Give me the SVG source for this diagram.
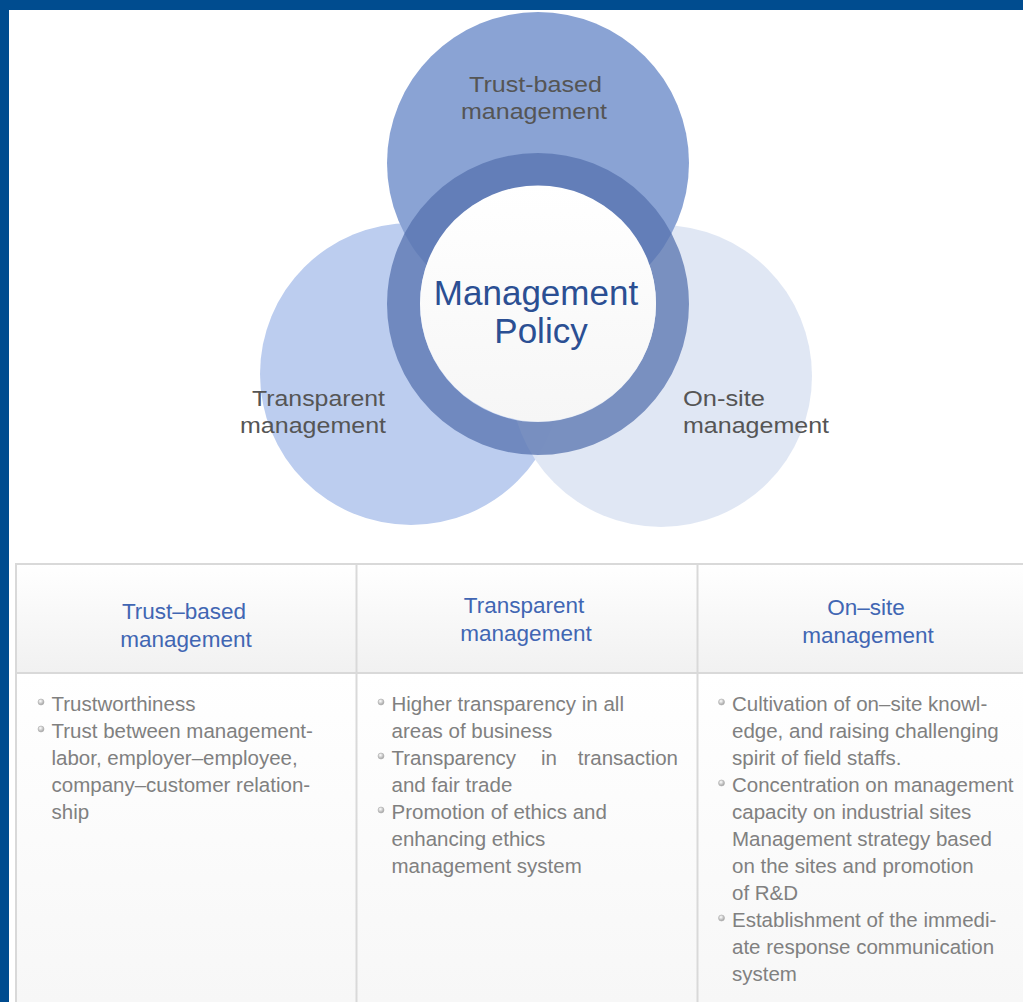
<svg xmlns="http://www.w3.org/2000/svg" width="1023" height="1002" viewBox="0 0 1023 1002">
<defs>
<linearGradient id="hdr" x1="0" y1="0" x2="0" y2="1">
<stop offset="0" stop-color="#ffffff"/>
<stop offset="1" stop-color="#f1f1f1"/>
</linearGradient>
<linearGradient id="body" x1="0" y1="0" x2="0" y2="1">
<stop offset="0" stop-color="#ffffff"/>
<stop offset="1" stop-color="#f7f7f7"/>
</linearGradient>
<linearGradient id="inner" x1="0" y1="0" x2="0" y2="1">
<stop offset="0" stop-color="#ffffff"/>
<stop offset="1" stop-color="#f6f6f6"/>
</linearGradient>
<radialGradient id="bul" cx="0.4" cy="0.35" r="0.7">
<stop offset="0" stop-color="#ffffff"/>
<stop offset="1" stop-color="#9a9a9a"/>
</radialGradient>
</defs>
<style>
.lbl{font-family:"Liberation Sans",Arial,sans-serif;font-size:22px;fill:#555555}
.mp{font-family:"Liberation Sans",Arial,sans-serif;font-size:35px;fill:#2b4f93;text-anchor:middle}
.hd{font-family:"Liberation Sans",Arial,sans-serif;font-size:22.5px;fill:#4166b3;text-anchor:middle}
.tx{font-family:"Liberation Sans",Arial,sans-serif;font-size:20.5px;fill:#808080}
.ln{stroke:#d9d9d9;stroke-width:2;fill:none}
.b{fill:url(#bul);stroke:#b0b0b0;stroke-width:0.6}
</style>
<rect x="0" y="0" width="1023" height="1002" fill="#ffffff"/>
<rect x="0" y="0" width="1023" height="10" fill="#004c8f"/>
<rect x="0" y="0" width="9" height="1002" fill="#004c8f"/>

<g id="circles">
<g id="node-transparent">
<circle cx="411" cy="374" r="151" fill="#bccdef"/>
</g>
<g id="node-onsite">
<circle cx="661" cy="376" r="151" fill="#dee6f3" fill-opacity="0.95"/>
</g>
<g id="node-trust">
<circle cx="538" cy="163" r="151" fill="#8aa3d4"/>
</g>
<g id="node-policy">
<circle cx="538" cy="304" r="134.5" fill="none" stroke="#5572ae" stroke-opacity="0.74" stroke-width="33"/>
<circle cx="538" cy="303.5" r="118" fill="url(#inner)"/>
<text class="mp" x="536" y="305">Management</text>
<text class="mp" x="541" y="343">Policy</text>
</g>
</g>
<g id="circle-labels">
<text class="lbl" x="469" y="92" textLength="133" lengthAdjust="spacingAndGlyphs">Trust-based</text>
<text class="lbl" x="461" y="119" textLength="146" lengthAdjust="spacingAndGlyphs">management</text>
<text class="lbl" x="252" y="406" textLength="133" lengthAdjust="spacingAndGlyphs">Transparent</text>
<text class="lbl" x="240" y="433" textLength="146" lengthAdjust="spacingAndGlyphs">management</text>
<text class="lbl" x="683" y="406" textLength="82" lengthAdjust="spacingAndGlyphs">On-site</text>
<text class="lbl" x="683" y="433" textLength="146" lengthAdjust="spacingAndGlyphs">management</text>
</g>

<g id="table">
<rect x="15" y="563" width="1008" height="110" fill="url(#hdr)"/>
<rect x="15" y="673" width="1008" height="329" fill="url(#body)"/>
<g id="connectors">
<line class="ln" x1="15" y1="564" x2="1023" y2="564"/>
<line class="ln" x1="15" y1="673" x2="1023" y2="673"/>
<line class="ln" x1="16" y1="563" x2="16" y2="1002"/>
<line class="ln" x1="356.5" y1="563" x2="356.5" y2="1002"/>
<line class="ln" x1="697.5" y1="563" x2="697.5" y2="1002"/>
</g>
<g id="header-trust">
<text class="hd" x="184" y="619">Trust–based</text>
<text class="hd" x="186" y="647">management</text>
</g>
<g id="header-transparent">
<text class="hd" x="524" y="613">Transparent</text>
<text class="hd" x="526" y="641">management</text>
</g>
<g id="header-onsite">
<text class="hd" x="866" y="615">On–site</text>
<text class="hd" x="868" y="643">management</text>
</g>

<g id="body-trust">
<circle class="b" cx="41" cy="702" r="3"/>
<circle class="b" cx="41" cy="729" r="3"/>
<text class="tx" x="51.5" y="711">Trustworthiness</text>
<text class="tx" x="51.5" y="738">Trust between management-</text>
<text class="tx" x="51.5" y="765">labor, employer–employee,</text>
<text class="tx" x="51.5" y="792">company–customer relation-</text>
<text class="tx" x="51.5" y="819">ship</text>
</g>
<g id="body-transparent">
<circle class="b" cx="381" cy="702" r="3"/>
<circle class="b" cx="381" cy="756" r="3"/>
<circle class="b" cx="381" cy="810" r="3"/>
<text class="tx" x="391.5" y="711">Higher transparency in all</text>
<text class="tx" x="391.5" y="738">areas of business</text>
<text class="tx" y="765"><tspan x="391.5">Transparency</tspan><tspan x="541">in</tspan><tspan x="678" text-anchor="end">transaction</tspan></text>
<text class="tx" x="391.5" y="792">and fair trade</text>
<text class="tx" x="391.5" y="819">Promotion of ethics and</text>
<text class="tx" x="391.5" y="846">enhancing ethics</text>
<text class="tx" x="391.5" y="873">management system</text>
</g>
<g id="body-onsite">
<circle class="b" cx="721.5" cy="702" r="3"/>
<circle class="b" cx="721.5" cy="783" r="3"/>
<circle class="b" cx="721.5" cy="918" r="3"/>
<text class="tx" x="732" y="711">Cultivation of on–site knowl-</text>
<text class="tx" x="732" y="738">edge, and raising challenging</text>
<text class="tx" x="732" y="765">spirit of field staffs.</text>
<text class="tx" x="732" y="792">Concentration on management</text>
<text class="tx" x="732" y="819">capacity on industrial sites</text>
<text class="tx" x="732" y="846">Management strategy based</text>
<text class="tx" x="732" y="873">on the sites and promotion</text>
<text class="tx" x="732" y="900">of R&amp;D</text>
<text class="tx" x="732" y="927">Establishment of the immedi-</text>
<text class="tx" x="732" y="954">ate response communication</text>
<text class="tx" x="732" y="981">system</text>
</g>
</g>
</svg>
